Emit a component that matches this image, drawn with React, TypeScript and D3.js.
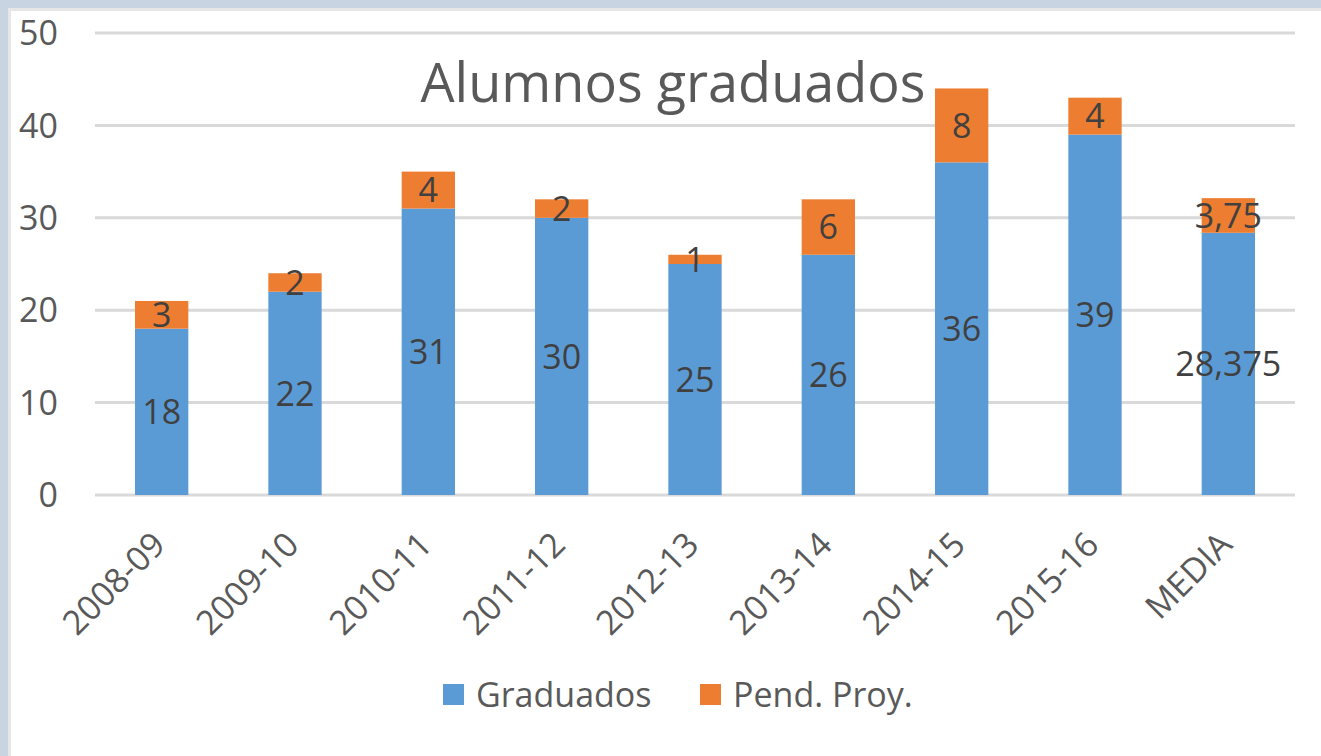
import React from "react";
import * as d3 from "d3";

const categories = ["2008-09", "2009-10", "2010-11", "2011-12", "2012-13", "2013-14", "2014-15", "2015-16", "MEDIA"];
const graduados = [18, 22, 31, 30, 25, 26, 36, 39, 28.375];
const pendProy = [3, 2, 4, 2, 1, 6, 8, 4, 3.75];
const yTicks = [0, 10, 20, 30, 40, 50];
const seriesNames = ["Graduados", "Pend. Proy."];
const colors = ["#5b9bd5", "#ed7d31"];
const title = "Alumnos graduados";

const W = 1321;
const H = 756;
const FONT = "'Open Sans', 'Segoe UI', sans-serif";

const fmt = (v: number) => String(v).replace(".", ",");

export default function App() {
  const x = d3.scaleBand<string>().domain(categories).range([95, 1295]).paddingInner(0.6).paddingOuter(0.3);
  const y = d3.scaleLinear().domain([0, 50]).range([495, 33]);
  const bw = x.bandwidth();

  return (
    <svg width={W} height={H} style={{ position: "absolute", left: 0, top: 0, display: "block" }}>
      <rect x={0} y={0} width={W} height={H} fill="#ffffff" />
      <rect x={0} y={0} width={W} height={8} fill="#c9d4e2" />
      <rect x={0} y={0} width={8} height={H} fill="#c9d4e2" />
      <rect x={8} y={8} width={W - 8} height={3} fill="#e6e6e6" />
      <rect x={8} y={8} width={3} height={H - 8} fill="#e6e6e6" />

      {yTicks.map((t) => (
        <g key={t}>
          <line x1={95} x2={1295} y1={y(t)} y2={y(t)} stroke="#d9d9d9" strokeWidth={3} />
          <text x={58} y={y(t)} dy="0.36em" textAnchor="end" fontFamily={FONT} fontSize={34} fill="#595959">
            {t}
          </text>
        </g>
      ))}

      <text x={673} y={102} textAnchor="middle" fontFamily={FONT} fontSize={54} fill="#595959">
        {title}
      </text>

      {categories.map((c, i) => {
        const x0 = x(c) as number;
        const g = graduados[i];
        const p = pendProy[i];
        const cx = x0 + bw / 2;
        return (
          <g key={c}>
            <rect x={x0} y={y(g)} width={bw} height={y(0) - y(g)} fill={colors[0]} />
            <rect x={x0} y={y(g + p)} width={bw} height={y(g) - y(g + p)} fill={colors[1]} />
            <text x={cx} y={y(g / 2)} dy="0.36em" textAnchor="middle" fontFamily={FONT} fontSize={34} fill="#404040">
              {fmt(g)}
            </text>
            <text x={cx} y={y(g + p / 2)} dy="0.36em" textAnchor="middle" fontFamily={FONT} fontSize={34} fill="#404040">
              {fmt(p)}
            </text>
            <text
              transform={`translate(${cx - 3},${538}) rotate(-45)`}
              dy="0.36em"
              textAnchor="end"
              fontFamily={FONT}
              fontSize={34}
              fill="#595959"
            >
              {c}
            </text>
          </g>
        );
      })}

      {seriesNames.map((s, i) => {
        const lx = i === 0 ? 443 : 700;
        return (
          <g key={s}>
            <rect x={lx} y={684} width={21} height={21} fill={colors[i]} />
            <text x={lx + 33} y={694.5} dy="0.36em" fontFamily={FONT} fontSize={34} fill="#595959">
              {s}
            </text>
          </g>
        );
      })}
    </svg>
  );
}
